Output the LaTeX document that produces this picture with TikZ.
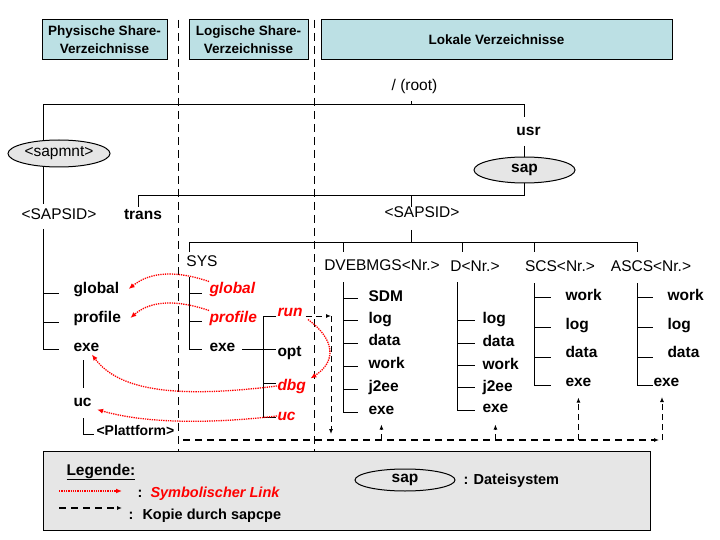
\documentclass[tikz,border=0pt]{standalone}
\usepackage{fontspec}
\setmainfont{Liberation Sans}
\usetikzlibrary{arrows.meta,positioning,shapes.geometric}
\definecolor{hdrblue}{RGB}{188,224,228}
\definecolor{fsgray}{RGB}{230,230,230}

\begin{document}
\begin{tikzpicture}[x=1pt,y=-1pt,line width=1pt,
  hdr/.style={draw,fill=hdrblue,align=center,inner sep=0pt,minimum height=40pt,
    font=\fontsize{13.5}{18}\selectfont\bfseries},
  dirlbl/.style={inner sep=0pt,text height=11pt,text depth=3pt,
    font=\fontsize{15.5}{18}\selectfont},
  sublbl/.style={dirlbl,anchor=west,font=\fontsize{15.5}{18}\selectfont\bfseries},
  symlbl/.style={sublbl,text=red,font=\fontsize{15.5}{18}\selectfont\bfseries\itshape},
  leglbl/.style={sublbl,font=\fontsize{14.5}{18}\selectfont\bfseries},
  fsnode/.style={ellipse,draw,fill=fsgray,inner sep=0pt,minimum width=101pt,minimum height=26pt,
    font=\fontsize{15.5}{18}\selectfont\bfseries},
  lnk/.style={red,line width=1.3pt,dash pattern=on 1.3pt off 1pt,-{Latex[length=6pt,width=5pt]}},
  cpy/.style={dash pattern=on 6pt off 4pt,-{Latex[length=5pt,width=4pt]}},
  bus/.style={cpy,line width=1.6pt,dash pattern=on 7pt off 5pt},
  sep/.style={dash pattern=on 8pt off 5pt}]
  \useasboundingbox (0,0) rectangle (720,540);

  % Kopfzeilen
  \node[hdr,minimum width=125pt] (hphys) at (104.5,40) {Physische Share-\\Verzeichnisse};
  \node[hdr,minimum width=119pt] (hlog) at (248.5,40) {Logische Share-\\Verzeichnisse};
  \node[hdr,minimum width=351pt] (hlok) at (496.5,40) {Lokale Verzeichnisse};

  % Trennlinien
  \draw[sep] (178,20) -- (178,451);
  \draw[sep] (314,20) -- (314,451);

  % / (root), usr, sap
  \node[dirlbl] (root) at (414.5,87) {/ (root)};
  \node[sublbl,anchor=center] (usr) at (528.5,132) {usr};
  \node[fsnode] (sap) at (524.5,170) {sap};
  \node[fsnode,minimum width=102pt,minimum height=27pt,font=\fontsize{15.5}{18}\selectfont] (mnt) at (59,153.5) {<sapmnt>};
  \draw (43,140) |- (524,105) -- (524,117);
  \draw (411,105) -- (411,101);
  \draw (524,146) -- (524,157);
  \draw (524,183) |- (138,196) -- (138,207);
  \draw (411,196) -- (411,207);
  \node[sublbl,anchor=center] (trans) at (143,216) {trans};
  \node[dirlbl] (sidloc) at (422,214) {<SAPSID>};
  \draw (411,230) -- (411,242);
  \draw (189,252) |- (637,242) -- (637,252);
  \foreach \x in {343,462,534} \draw (\x,242) -- (\x,252);
  \node[dirlbl] (sys) at (202,262) {SYS};
  \node[dirlbl] (dvebmgs) at (382,266) {DVEBMGS<Nr.>};
  \node[dirlbl] (dnr) at (475,267) {D<Nr.>};
  \node[dirlbl] (scs) at (560,267) {SCS<Nr.>};
  \node[dirlbl] (ascs) at (651,267) {ASCS<Nr.>};

  % physische Share-Verzeichnisse
  \draw (43,167) -- (43,204);
  \node[dirlbl] (sidphys) at (59,215) {<SAPSID>};
  \draw (43,229) -- (43,349) -- (59,349);
  \draw (43,293) -- (59,293);
  \draw (43,322) -- (59,322);
  \node[sublbl] (glob1) at (73,289) {global};
  \node[sublbl] (prof1) at (73,318) {profile};
  \node[sublbl] (exe1) at (73,347) {exe};
  \draw (83,360) -- (83,388);
  \node[sublbl] (uc1) at (73,402) {uc};
  \draw (83,418) |- (94,434);
  \node[sublbl,font=\fontsize{14}{16}\selectfont\bfseries] (plat) at (96,431) {<Plattform>};

  % logische Share-Verzeichnisse
  \draw (189,277) -- (189,349) -- (202,349);
  \draw (189,293) -- (202,293);
  \draw (189,321) -- (202,321);
  \node[symlbl] (glob2) at (209,289) {global};
  \node[symlbl] (prof2) at (209,318) {profile};
  \node[sublbl] (exe2) at (209,347) {exe};
  \draw (242,349) -- (263,349);
  \draw (276,316) -| (263,417) -- (276,417);
  \draw (263,349) -- (276,349);
  \draw (263,383) -- (276,383);
  \node[symlbl] (run) at (277,312) {run};
  \node[sublbl] (opt) at (277,352) {opt};
  \node[symlbl] (dbg) at (277,386) {dbg};
  \node[symlbl] (uc2) at (277,416) {uc};

  % DVEBMGS<Nr.>
  \draw (343,282) -- (343,412) -- (358,412);
  \foreach \y in {298,320,343,366,389} \draw (343,\y) -- (358,\y);
  \node[sublbl] (dvsdm) at (368,297) {SDM};
  \node[sublbl] (dvlog) at (368,319) {log};
  \node[sublbl] (dvdata) at (368,341) {data};
  \node[sublbl] (dvwork) at (368,364) {work};
  \node[sublbl] (dvj2ee) at (368,387) {j2ee};
  \node[sublbl] (dvexe) at (368,410) {exe};

  % D<Nr.>
  \draw (457,282) -- (457,410) -- (475,410);
  \foreach \y in {320,343,365,387} \draw (457,\y) -- (475,\y);
  \node[sublbl] (dlog) at (482,319) {log};
  \node[sublbl] (ddata) at (482,342) {data};
  \node[sublbl] (dwork) at (482,365) {work};
  \node[sublbl] (dj2ee) at (482,387) {j2ee};
  \node[sublbl] (dexe) at (482,408) {exe};

  % SCS<Nr.> und ASCS<Nr.>
  \draw (534,283) -- (534,385) -- (551,385);
  \draw (637,283) -- (637,385) -- (653,385);
  \foreach \y in {297,327,357} {
    \draw (534,\y) -- (551,\y);
    \draw (637,\y) -- (653,\y);
  }
  \node[sublbl] (scswork) at (565,296) {work};
  \node[sublbl] (scslog) at (565,325) {log};
  \node[sublbl] (scsdata) at (565,353) {data};
  \node[sublbl] (scsexe) at (565,382) {exe};
  \node[sublbl] (ascswork) at (667,296) {work};
  \node[sublbl] (ascslog) at (667,325) {log};
  \node[sublbl] (ascsdata) at (667,353) {data};
  \node[sublbl] (ascsexe) at (653,382) {exe};

  % Kopie durch sapcpe
  \coordinate (cpa) at (331,316);
  \coordinate (cpb) at (331,434);
  \coordinate (bus0) at (183,440);
  \coordinate (bus1) at (659,440);
  \coordinate (ascsin) at (662,397);
  \draw[cpy,shorten <=3pt] (run.east |- cpa) -- (cpa);
  \draw[cpy] (cpa) -- (cpb);
  \draw[bus] (bus0) -- (bus1);
  \draw[cpy,shorten >=7pt] (dvexe.south |- bus0) -- (dvexe.south);
  \draw[cpy,shorten >=9pt] (dexe.south |- bus0) -- (dexe.south);
  \draw[cpy,shorten >=8pt] (scsexe.south |- bus0) -- (scsexe.south);
  \draw[cpy] (ascsin |- bus0) -- (ascsin);

  % symbolische Links
  \draw[lnk] (glob2.north west) .. controls (175,270) and (150,272) .. ([xshift=9pt]glob1.east);
  \draw[lnk] (prof2.north west) .. controls (175,299) and (150,301) .. ([xshift=9pt]prof1.east);
  \draw[lnk] ([xshift=5pt]run.south east) .. controls (336,340) and (336,362) .. ([xshift=4pt]dbg.north east);
  \draw[lnk] (dbg.west) .. controls (180,398) and (120,392) .. ([xshift=-8pt]exe1.south east);
  \draw[lnk] (uc2.west) .. controls (200,425) and (140,422) .. ([xshift=5pt]uc1.south east);

  % Legende
  \draw[fill=fsgray] (43,451) rectangle (650,530);
  \node[sublbl] (legtitle) at (66,471) {\underline{Legende:}};
  \coordinate (la0) at (59,491);
  \coordinate (la1) at (122,491);
  \draw[lnk] (la0) -- (la1);
  \node[leglbl] (lcol1) at (137,493) {:};
  \node[leglbl,text=red,font=\fontsize{14.5}{18}\selectfont\bfseries\itshape] (lsym) at (150,493) {Symbolischer Link};
  \coordinate (lb0) at (59,508);
  \coordinate (lb1) at (122,508);
  \draw[bus] (lb0) -- (lb1);
  \node[leglbl] (lcol2) at (128,515) {:};
  \node[leglbl] (lkop) at (142,515) {Kopie durch sapcpe};
  \node[fsnode,fill=none,minimum width=100pt,minimum height=22pt] (lsap) at (405,480) {sap};
  \node[leglbl] (ldat) at (463,480) {: Dateisystem};
\end{tikzpicture}
\end{document}
